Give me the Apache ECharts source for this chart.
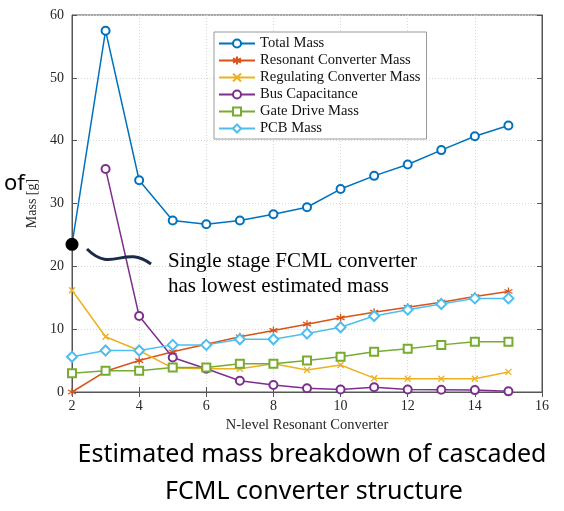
<!DOCTYPE html>
<html>
<head>
<meta charset="utf-8">
<script src="https://cdn.jsdelivr.net/npm/echarts@6/dist/echarts.min.js"></script>
<style>
  html, body { margin: 0; padding: 0; background: #fff; }
  #plot { width: 564px; height: 511px; }
</style>
</head>
<body>
<div id="plot"></div>
<script>
// 数据
var levels = [2, 3, 4, 5, 6, 7, 8, 9, 10, 11, 12, 13, 14, 15];
var totalMass = [23.5, 57.5, 33.7, 27.3, 26.7, 27.3, 28.3, 29.4, 32.3, 34.4, 36.2, 38.5, 40.7, 42.4];
var resonantMass = [0, 3.3, 5.0, 6.4, 7.6, 8.8, 9.8, 10.8, 11.8, 12.7, 13.5, 14.3, 15.2, 16.0];
var regulatingMass = [16.2, 8.8, 6.6, 3.8, 3.7, 3.7, 4.5, 3.5, 4.3, 2.2, 2.1, 2.1, 2.1, 3.2];
var busCapacitance = [null, 35.5, 12.1, 5.5, 3.7, 1.8, 1.1, 0.6, 0.4, 0.75, 0.4, 0.35, 0.3, 0.1];
var gateDriveMass = [3.0, 3.4, 3.4, 3.9, 3.9, 4.5, 4.5, 5.0, 5.6, 6.4, 6.9, 7.5, 8.0, 8.0];
var pcbMass = [5.6, 6.6, 6.6, 7.5, 7.5, 8.4, 8.4, 9.3, 10.3, 12.1, 13.1, 14.0, 14.9, 14.9];
var seriesNames = ['Total Mass', 'Resonant Converter Mass', 'Regulating Converter Mass', 'Bus Capacitance', 'Gate Drive Mass', 'PCB Mass'];
var lowestPoint = [[2, 23.5]];

var serif = 'Liberation Serif';
var colors = ['#0072BD', '#D95319', '#EDB120', '#7E2F8E', '#77AC30', '#4DBEEE'];
var asterisk = 'path://M5 0L5 10M0.7 2.5L9.3 7.5M0.7 7.5L9.3 2.5';
var cross = 'path://M0 0L10 10M0 10L10 0';

function pairs(vals) {
  return levels.map(function (x, i) { return [x, vals[i]]; });
}

function lineSeries(idx, vals, symbol, size) {
  return {
    name: seriesNames[idx],
    type: 'line',
    data: pairs(vals),
    symbol: symbol,
    symbolSize: size,
    showAllSymbol: true,
    connectNulls: false,
    lineStyle: { color: colors[idx], width: 1.5 },
    itemStyle: {
      color: colors[idx],
      borderColor: colors[idx],
      borderWidth: 1.3
    },
    emphasis: { disabled: true }
  };
}

var myChart = echarts.init(document.getElementById('plot'));

var gridLine = { show: true, lineStyle: { color: '#d6d6d6', type: [1, 2], width: 1 } };
var axisCol = '#555';

var option = {
  animation: false,
  backgroundColor: '#fff',
  grid: { left: 72, right: 22, top: 15, bottom: 119, show: true, borderColor: axisCol, borderWidth: 1 },
  legend: {
    orient: 'vertical',
    left: 214,
    top: 32,
    data: seriesNames,
    backgroundColor: '#fff',
    borderColor: '#999',
    borderWidth: 1,
    borderRadius: 0,
    padding: [4, 6, 3, 4],
    itemWidth: 36,
    itemHeight: 10,
    itemGap: 2,
    textStyle: { fontFamily: serif, fontSize: 14.6, color: '#111', lineHeight: 14 }
  },
  xAxis: [{
    type: 'value', min: 2, max: 16, interval: 2,
    name: 'N-level Resonant Converter', nameLocation: 'middle', nameGap: 26,
    nameTextStyle: { fontFamily: serif, fontSize: 14.5, color: '#262626' },
    axisLine: { show: true, lineStyle: { color: axisCol } },
    axisTick: { show: true, inside: true, length: 5, lineStyle: { color: axisCol } },
    axisLabel: { fontFamily: serif, fontSize: 14, color: '#262626', margin: 7 },
    splitLine: gridLine
  }, {
    type: 'value', min: 2, max: 16, interval: 2, position: 'top',
    axisLine: { show: true, lineStyle: { color: axisCol } },
    axisTick: { show: true, inside: true, length: 5, lineStyle: { color: axisCol } },
    axisLabel: { show: false }, splitLine: { show: false }
  }],
  yAxis: [{
    type: 'value', min: 0, max: 60, interval: 10,
    name: 'Mass [g]', nameLocation: 'middle', nameGap: 24,
    nameTextStyle: { fontFamily: serif, fontSize: 14, color: '#262626' },
    axisLine: { show: true, lineStyle: { color: axisCol } },
    axisTick: { show: true, inside: true, length: 5, lineStyle: { color: axisCol } },
    axisLabel: { fontFamily: serif, fontSize: 14, color: '#262626', margin: 8 },
    splitLine: gridLine
  }, {
    type: 'value', min: 0, max: 60, interval: 10, position: 'right',
    axisLine: { show: true, lineStyle: { color: axisCol } },
    axisTick: { show: true, inside: true, length: 5, lineStyle: { color: axisCol } },
    axisLabel: { show: false }, splitLine: { show: false }
  }],
  series: [
    lineSeries(0, totalMass, 'emptyCircle', 8),
    lineSeries(1, resonantMass, asterisk, 8),
    lineSeries(2, regulatingMass, cross, 6),
    lineSeries(3, busCapacitance, 'emptyCircle', 8),
    lineSeries(4, gateDriveMass, 'emptyRect', 8),
    lineSeries(5, pcbMass, 'emptyDiamond', 10),
    {
      name: 'lowest', type: 'scatter', data: lowestPoint,
      symbol: 'circle', symbolSize: 13, z: 5,
      itemStyle: { color: '#000', opacity: 1 }, emphasis: { disabled: true }
    }
  ],
  graphic: [
    {
      type: 'bezierCurve', z: 100,
      shape: { x1: 87, y1: 249, cpx1: 112, cpy1: 274, cpx2: 124, cpy2: 244, x2: 151, y2: 264 },
      style: { stroke: '#1c2b4a', lineWidth: 3, fill: null }
    },
    {
      type: 'text', left: 168, top: 251, z: 100,
      style: { text: 'Single stage FCML converter', font: '21px "Liberation Serif"', fill: '#000' }
    },
    {
      type: 'text', left: 168, top: 276, z: 100,
      style: { text: 'has lowest estimated mass', font: '21px "Liberation Serif"', fill: '#000' }
    },
    {
      type: 'text', left: 4, top: 173, z: 100,
      style: { text: 'of', font: '22px "Noto Sans"', fill: '#000' }
    },
    {
      type: 'text', x: 312, y: 455, z: 100,
      style: { text: 'Estimated mass breakdown of cascaded', font: '25px "Noto Sans"', fill: '#000', align: 'center', verticalAlign: 'middle' }
    },
    {
      type: 'text', x: 314, y: 492, z: 100,
      style: { text: 'FCML converter structure', font: '25px "Noto Sans"', fill: '#000', align: 'center', verticalAlign: 'middle' }
    }
  ]
};

myChart.setOption(option);
</script>
</body>
</html>
